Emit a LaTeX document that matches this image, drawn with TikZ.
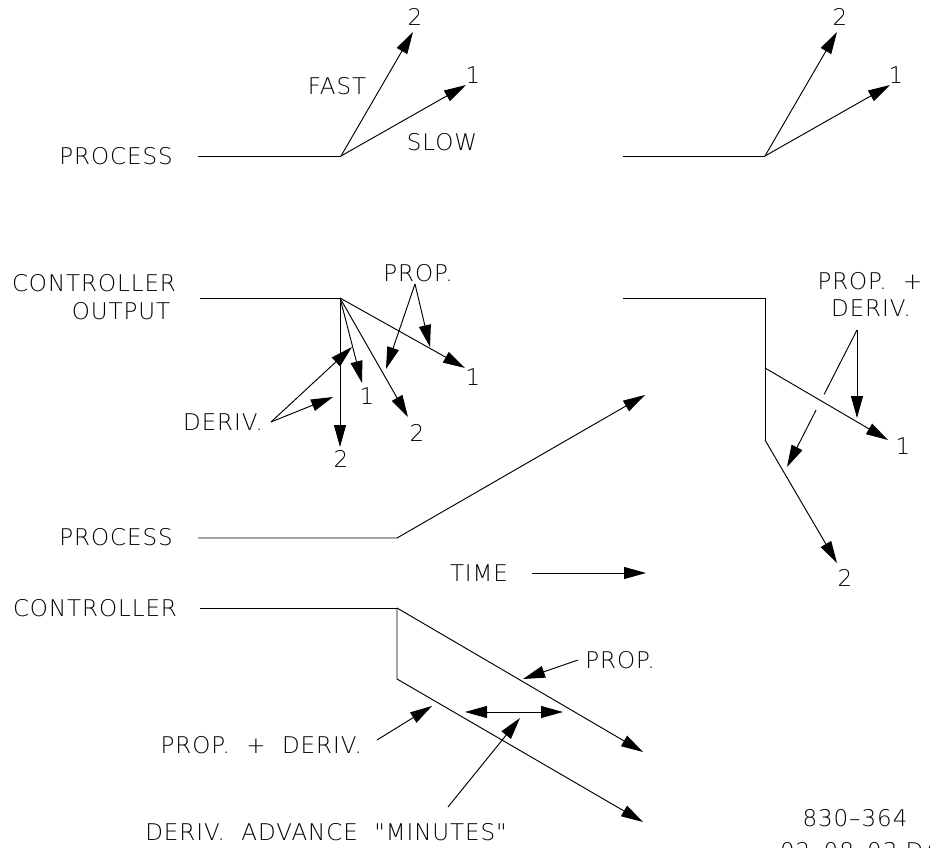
\documentclass[tikz,border=0pt]{standalone}
\usepackage{fontspec}
\newfontfamily\cadfont[LetterSpace=4]{DejaVu Sans ExtraLight}
\usetikzlibrary{arrows.meta,calc}
\begin{document}
\begin{tikzpicture}[x=1pt,y=-1pt,
  trace/.style={line width=0.95pt, line join=miter},
  arr/.style={trace,-{Triangle[length=22pt,width=12pt]}},
  dblarr/.style={trace,{Triangle[length=22pt,width=12pt]}-{Triangle[length=22pt,width=12pt]}},
  lbl/.style={font=\cadfont\fontsize{23}{26}\selectfont, inner sep=0pt},
]
\useasboundingbox (0,0) rectangle (930,848);

% ---- Process reaction, left (fast / slow)
\node[lbl] (pA) at (116,156) {PROCESS};
\coordinate (pAs) at (198,156);
\coordinate (pAk) at (341,156);
\coordinate (pAt2) at (413,32);
\coordinate (pAt1) at (466,85);
\node[lbl] (pA2) at (415,17) {2};
\node[lbl] (pA1) at (473,75) {1};
\node[lbl] (fast) at (337,86) {FAST};
\node[lbl] (slow) at (442,142) {SLOW};
\draw[trace] (pAs) -- (pAk);
\draw[arr] (pAk) -- (pAt2);
\draw[arr] (pAk) -- (pAt1);

% ---- Process reaction, right
\coordinate (pBs) at (623,156);
\coordinate (pBk) at (765,156);
\coordinate (pBt2) at (837,32);
\coordinate (pBt1) at (890,85);
\node[lbl] (pB2) at (840,17) {2};
\node[lbl] (pB1) at (896,75) {1};
\draw[trace] (pBs) -- (pBk);
\draw[arr] (pBk) -- (pBt2);
\draw[arr] (pBk) -- (pBt1);

% ---- Controller output, left (prop. and deriv. responses)
\node[lbl] (co1) at (94,283) {CONTROLLER};
\node[lbl] (co2) at (121,311) {OUTPUT};
\coordinate (cAs) at (200,298);
\coordinate (cAk) at (340,298);
\coordinate (cAd2) at (340,447);
\coordinate (cAd1) at (362,383);
\coordinate (cAp2) at (408,417);
\coordinate (cAp1) at (465,368);
\node[lbl] (cAd2l) at (341,459) {2};
\node[lbl] (cAd1l) at (367,396) {1};
\node[lbl] (cAp2l) at (417,433) {2};
\node[lbl] (cAp1l) at (473,377) {1};
\draw[trace] (cAs) -- (cAk);
\draw[arr] (cAk) -- (cAd2);
\draw[arr] (cAk) -- (cAd1);
\draw[arr] (cAk) -- (cAp2);
\draw[arr] (cAk) -- (cAp1);

\node[lbl] (propA) at (418,273) {PROP.};
\coordinate (propAx) at (415,284);
\coordinate (propAt1) at (430,347);
\coordinate (propAt2) at (386,369);
\draw[arr] (propAx) -- (propAt1);
\draw[arr] (propAx) -- (propAt2);

\node[lbl] (derA) at (223,422) {DERIV.};
\coordinate (derAx) at (271,422);
\coordinate (derAt1) at (352,347);
\coordinate (derAt2) at (333,397);
\draw[arr] (derAx) -- (derAt1);
\draw[arr] (derAx) -- (derAt2);

% ---- Controller output, right (prop. + deriv.)
\coordinate (cBs) at (623,298);
\coordinate (cBk) at (765,298);
\coordinate (cBm) at (765,368);
\coordinate (cBb) at (765,440);
\coordinate (cBt1) at (888,440);
\coordinate (cBt2) at (837,563);
\node[lbl] (cBt1l) at (903,446) {1};
\node[lbl] (cBt2l) at (845,578) {2};
\draw[trace] (cBs) -- (cBk) -- (cBb);
\draw[arr] (cBm) -- (cBt1);
\draw[arr] (cBb) -- (cBt2);

\node[lbl] (pdB1) at (870,281) {PROP.~~+};
\node[lbl] (pdB2) at (871,308) {DERIV.};
\coordinate (pdBx) at (857,330);
\coordinate (pdBt1) at (857,418);
\coordinate (pdBt2) at (787,467);
\draw[arr] (pdBx) -- (pdBt1);
\draw[trace] (pdBx) -- ($(pdBx)!0.47!(pdBt2)$);
\draw[arr] ($(pdBx)!0.585!(pdBt2)$) -- (pdBt2);

% ---- Process ramp and time axis
\node[lbl] (pC) at (116,537) {PROCESS};
\coordinate (pCs) at (198,538);
\coordinate (pCk) at (397,538);
\coordinate (pCt) at (645,395);
\draw[arr] (pCs) -- (pCk) -- (pCt);

\node[lbl] (time) at (479,573) {TIME};
\coordinate (timeS) at (532,573);
\coordinate (timeE) at (646,573);
\draw[arr] (timeS) -- (timeE);

% ---- Controller response to the ramp
\node[lbl] (cC) at (95,608) {CONTROLLER};
\coordinate (cCs) at (200,608);
\coordinate (cCk) at (397,608);
\coordinate (cCb) at (397,679);
\coordinate (cCt1) at (643,752);
\coordinate (cCt2) at (643,822);
\draw[trace] (cCs) -- (cCk);
\draw[arr] (cCk) -- (cCt1);
\draw[arr] (cCk) -- (cCb) -- (cCt2);

\node[lbl] (propC) at (620,660) {PROP.};
\coordinate (propCx) at (578,660);
\coordinate (propCt) at (523,679);
\draw[arr] (propCx) -- (propCt);

\coordinate (advL) at (465,712);
\coordinate (advR) at (563,712);
\draw[dblarr] (advL) -- (advR);

\node[lbl,anchor=east] (pdC) at (362,745) {PROP.~~+~~DERIV.};
\coordinate (pdCx) at (377,740);
\coordinate (pdCt) at (432,706);
\draw[arr] (pdCx) -- (pdCt);

\node[lbl] (adv) at (326,832) {DERIV.~~ADVANCE~~"MINUTES"};
\coordinate (advX) at (448,807);
\coordinate (advT) at (520,718);
\draw[arr] (advX) -- (advT);

% ---- Drawing number
\node[lbl] (dwg) at (855,818) {830–364};
\node[lbl,anchor=west] (date) at (780,851) {02–08–03 DAB};
\end{tikzpicture}
\end{document}
